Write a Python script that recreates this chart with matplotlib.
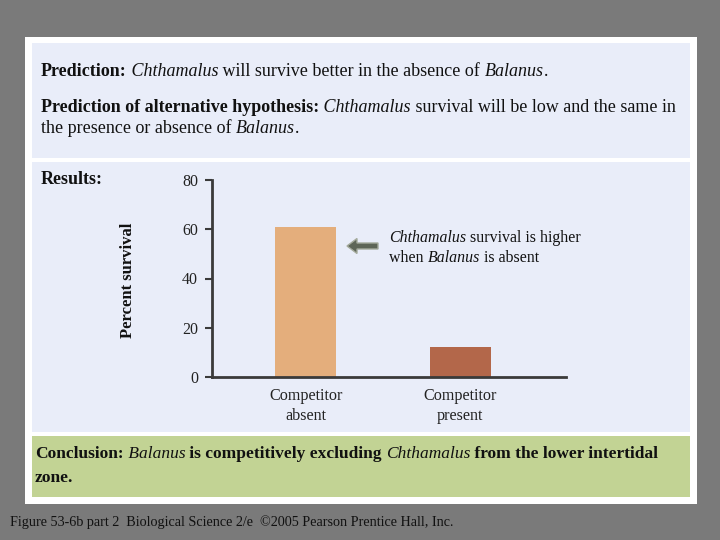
import matplotlib
matplotlib.use('Agg')
import matplotlib.pyplot as plt
import matplotlib.patches as mpatches
from matplotlib.transforms import IdentityTransform

# data
categories = ['Competitor\nabsent', 'Competitor\npresent']
survival = [61, 12]
bar_colors = ['#e4ae7c', '#b3674a']
yticks = [0, 20, 40, 60, 80]

W, H = 720, 540
plt.rcParams['font.family'] = ['Liberation Serif', 'DejaVu Serif']

fig = plt.figure(figsize=(7.2, 5.4), dpi=100)
fig.patch.set_facecolor('#7a7a7a')
renderer = fig.canvas.get_renderer()


def box(x0, y0, x1, y1, color):
    # rectangle given in pixel coords from the top left
    fig.patches.append(mpatches.Rectangle((x0 / W, 1 - y1 / H), (x1 - x0) / W, (y1 - y0) / H,
                                          transform=fig.transFigure, facecolor=color,
                                          edgecolor='none', zorder=-5))


def style_kw(style, size):
    return dict(fontsize=size,
                fontweight='bold' if style == 'b' else 'normal',
                fontstyle='italic' if style == 'i' else 'normal')


def width(s, style, size):
    t = fig.text(0, 0, s, **style_kw(style, size))
    w = t.get_window_extent(renderer).width
    t.remove()
    return w


def rich(x, y, parts, size, color='#111111'):
    # draw pieces of mixed bold / italic text one after the other
    for s, style in parts:
        fig.text(x / W, 1 - y / H, s, va='baseline', ha='left', color=color,
                 **style_kw(style, size))
        x += width(s + '|', style, size) - width('|', style, size)


box(25, 37, 697, 504, 'white')
box(32, 43, 690, 158, '#e9edf9')
box(32, 162, 690, 432, '#e9edf9')
box(32, 436, 690, 497, '#c2d394')

fs = 13
rich(41, 76, [('Prediction:', 'b'), (' Chthamalus', 'i'),
              (' will survive better in the absence of ', 'r'), ('Balanus', 'i'), ('.', 'r')], fs)
rich(41, 112, [('Prediction of alternative hypothesis:', 'b'), (' Chthamalus', 'i'),
               (' survival will be low and the same in', 'r')], fs)
rich(41, 133, [('the presence or absence of ', 'r'), ('Balanus', 'i'), ('.', 'r')], fs)
rich(41, 184, [('Results:', 'b')], fs)
rich(35, 458, [('Conclusion:', 'b'), (' Balanus', 'i'), (' is competitively excluding ', 'b'),
               ('Chthamalus', 'i'), (' from the lower intertidal', 'b')], 12.5)
rich(35, 482, [('zone.', 'b')], 12.5)
rich(10, 526, [('Figure 53-6b part 2  Biological Science 2/e  \u00a92005 Pearson Prentice Hall, Inc.', 'r')],
     10.2, color='#111111')

# bar chart
ax = fig.add_axes([212 / W, 1 - 377 / H, 354 / W, 197 / H])
ax.set_facecolor('none')
ax.bar(range(len(survival)), survival, width=0.396, color=bar_colors)
ax.set_xlim(-0.61, 1.688)
ax.set_ylim(0, 80)
ax.set_yticks(yticks)
ax.set_xticks(range(len(categories)))
ax.set_xticklabels(categories, linespacing=1.3)
for side in ['top', 'right']:
    ax.spines[side].set_visible(False)
for side in ['left', 'bottom']:
    ax.spines[side].set_color('#3a3a3a')
    ax.spines[side].set_linewidth(2)
ax.tick_params(axis='y', length=5, width=1.5, color='#3a3a3a', pad=5, labelsize=11.5, labelcolor='#222222')
ax.tick_params(axis='x', length=0, pad=8, labelsize=11.6, labelcolor='#222222')

fig.text(128 / W, 1 - 280 / H, 'Percent survival', rotation=90, ha='center', va='center',
         fontsize=12, fontweight='bold', color='#111111')

# arrow pointing at the first bar
arrow = mpatches.FancyArrow(378, H - 246, -31, 0, width=6, head_width=15, head_length=10,
                            length_includes_head=True, transform=IdentityTransform(),
                            facecolor='#5d6557', edgecolor='#a4aa9c', linewidth=1)
fig.patches.append(arrow)

rich(389, 242, [('Chthamalus', 'i'), (' survival is higher', 'r')], 11.4)
rich(389, 262, [('when ', 'r'), ('Balanus', 'i'), (' is absent', 'r')], 11.4)

fig.savefig('out.png', dpi=100, facecolor=fig.get_facecolor())
